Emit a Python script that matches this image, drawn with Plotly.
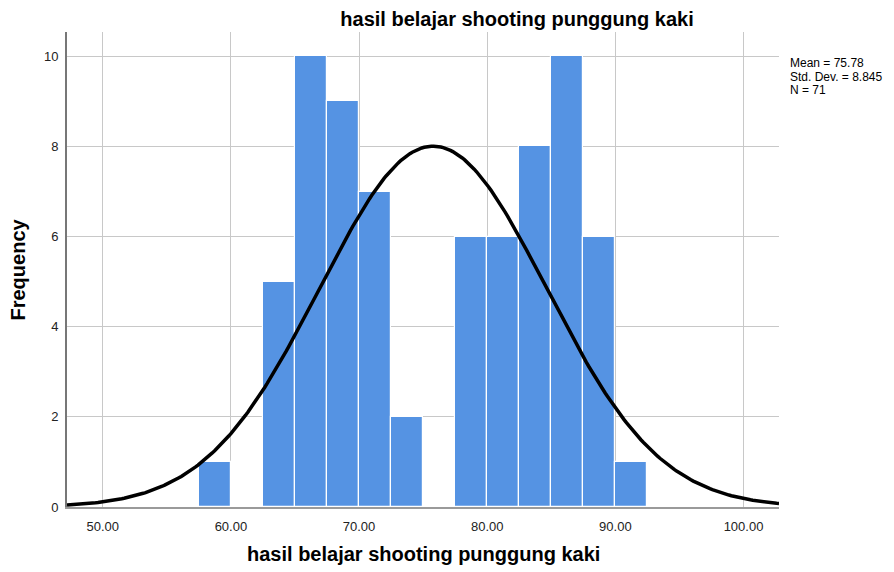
"""
    SPSS-style histogram with normal curve
"""

import numpy as np
import plotly.graph_objs as go

# Histogram bins (lower edge) and counts
bin_starts = [57.5, 60.0, 62.5, 65.0, 67.5, 70.0, 72.5, 75.0, 77.5, 80.0, 82.5, 85.0, 87.5, 90.0]
counts = [1, 0, 5, 10, 9, 7, 2, 0, 6, 6, 8, 10, 6, 1]
bin_width = 2.5

# Summary statistics shown in the chart
mean = 75.78
std_dev = 8.845
n = 71

x_range = [47.21, 102.77]
y_range = [0, 10.54]
x_ticks = [50, 60, 70, 80, 90, 100]
y_ticks = [0, 2, 4, 6, 8, 10]

TITLE = "hasil belajar shooting punggung kaki"
BAR_COLOR = "#5593E3"
FONT = "Liberation Sans, Arial, sans-serif"

# page body has an 8px margin, so the figure is shifted by 8px
W, H = 878, 564

centers = [b + bin_width / 2 for b in bin_starts]

# Normal curve scaled to the histogram
xs = np.linspace(x_range[0], x_range[1], 300)
ys = n * bin_width / (std_dev * np.sqrt(2 * np.pi)) * np.exp(-0.5 * ((xs - mean) / std_dev) ** 2)

data = [
    go.Bar(
        x=centers,
        y=counts,
        width=bin_width,
        marker={"color": BAR_COLOR, "line": {"color": "white", "width": 1.2}},
        hoverinfo="x+y",
        showlegend=False,
    ),
    go.Scatter(
        x=xs,
        y=ys,
        mode="lines",
        line={"color": "black", "width": 3.5},
        hoverinfo="skip",
        showlegend=False,
    ),
]

# Stats box lines (right of the plot)
stats_lines = ["Mean = %.2f" % mean, "Std. Dev. = %.3f" % std_dev, "N = %d" % n]
annotations = [
    {
        "text": line,
        "xref": "paper",
        "yref": "paper",
        "x": 1.0,
        "xshift": 9,
        "y": 1.0,
        "yshift": -31 - 13.5 * i,
        "xanchor": "left",
        "yanchor": "middle",
        "showarrow": False,
        "font": {"size": 12, "color": "black"},
    }
    for i, line in enumerate(stats_lines)
]

# Axis titles
annotations.append(
    {
        "text": "<b>" + TITLE + "</b>",
        "xref": "paper",
        "yref": "paper",
        "x": 0.5,
        "y": 0,
        "yshift": -47,
        "xanchor": "center",
        "yanchor": "middle",
        "showarrow": False,
        "font": {"size": 20, "color": "black"},
    }
)
annotations.append(
    {
        "text": "<b>Frequency</b>",
        "xref": "paper",
        "yref": "paper",
        "x": 0,
        "xshift": -50,
        "y": 0.5,
        "textangle": -90,
        "xanchor": "center",
        "yanchor": "middle",
        "showarrow": False,
        "font": {"size": 20, "color": "black"},
    }
)

layout = go.Layout(
    width=W,
    height=H,
    margin={"l": 59, "r": 107, "t": 24, "b": 65, "autoexpand": False},
    paper_bgcolor="white",
    plot_bgcolor="white",
    font={"family": FONT, "size": 13, "color": "#222"},
    bargap=0,
    title={
        "text": "<b>" + TITLE + "</b>",
        "x": 509 / W,
        "xanchor": "center",
        "y": 1 - 11 / H,
        "yanchor": "middle",
        "font": {"size": 20, "color": "black"},
    },
    xaxis={
        "range": x_range,
        "automargin": False,
        "tickvals": x_ticks,
        "tickformat": ".2f",
        "showgrid": True,
        "gridcolor": "#c8c8c8",
        "gridwidth": 1.3,
        "zeroline": False,
        "showline": True,
        "linecolor": "#9a9a9a",
        "linewidth": 2,
        "ticks": "outside",
        "ticklen": 6,
        "tickcolor": "rgba(0,0,0,0)",
    },
    yaxis={
        "range": y_range,
        "automargin": False,
        "tickvals": y_ticks,
        "showgrid": True,
        "gridcolor": "#c8c8c8",
        "gridwidth": 1.3,
        "zeroline": False,
        "showline": True,
        "linecolor": "#777777",
        "linewidth": 2,
        "ticks": "outside",
        "ticklen": 4,
        "tickcolor": "rgba(0,0,0,0)",
    },
    annotations=annotations,
)

fig = go.Figure(data=data, layout=layout)
fig.write_html("out.html")
